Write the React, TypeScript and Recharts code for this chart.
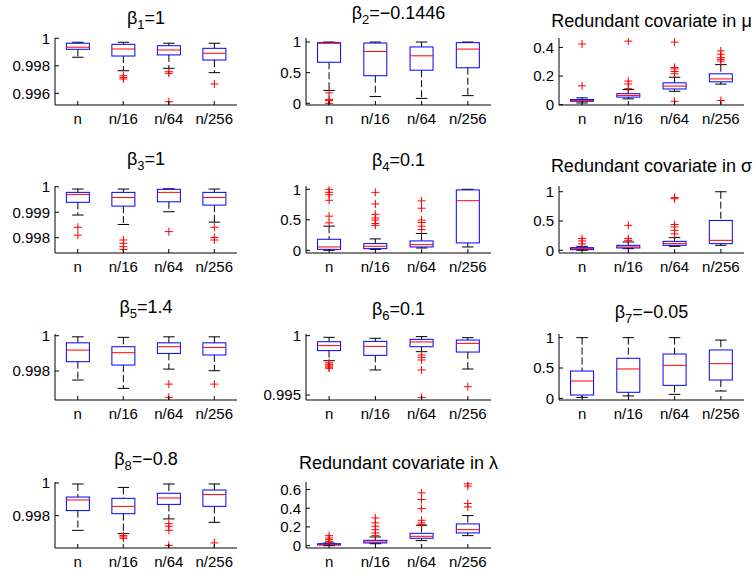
import React from "react";
import { Bar, ComposedChart, XAxis, YAxis } from "recharts";

const categories = ["n", "n/16", "n/64", "n/256"];

// each row: [lower whisker, q1, median, q3, upper whisker] for n, n/16, n/64, n/256
const beta1Stats = [
  [0.99862, 0.9992, 0.99935, 0.99964, 0.99971],
  [0.99764, 0.99871, 0.99922, 0.99956, 0.99971],
  [0.99782, 0.99879, 0.99915, 0.99946, 0.99964],
  [0.9975, 0.99842, 0.99891, 0.99927, 0.99964],
];
const beta1Outliers = [[], [0.99728, 0.99715, 0.99704], [0.99757, 0.99745, 0.99539], [0.99668]];

const beta2Stats = [
  [0.21, 0.67, 0.98, 0.99, 1.0],
  [0.11, 0.45, 0.846, 0.984, 1.0],
  [0.08, 0.54, 0.775, 0.92, 1.0],
  [0.125, 0.58, 0.885, 0.99, 1.0],
];
const beta2Outliers = [[0.17, 0.065, 0.045, 0.0], [], [], []];

const muStats = [
  [0.012, 0.024, 0.028, 0.036, 0.048],
  [0.041, 0.053, 0.065, 0.077, 0.106],
  [0.094, 0.11, 0.13, 0.153, 0.192],
  [0.144, 0.16, 0.18, 0.216, 0.28],
];
const muOutliers = [
  [0.424, 0.132],
  [0.444, 0.165, 0.145, 0.112],
  [0.437, 0.26, 0.25, 0.232, 0.216, 0.024],
  [0.376, 0.353, 0.329, 0.317, 0.305, 0.029],
];

const beta3Stats = [
  [0.99889, 0.99939, 0.9997, 0.99978, 0.99991],
  [0.99852, 0.99924, 0.99958, 0.99978, 0.99991],
  [0.99902, 0.99941, 0.99978, 0.9999, 0.99992],
  [0.99861, 0.99928, 0.99958, 0.99978, 0.99991],
];
const beta3Outliers = [[0.99841, 0.9981], [0.99791, 0.99778, 0.99765, 0.99754], [0.99824], [0.99841, 0.99801, 0.99791]];

const beta4Stats = [
  [0.0, 0.016, 0.055, 0.181, 0.396],
  [0.016, 0.027, 0.066, 0.11, 0.187],
  [0.038, 0.055, 0.093, 0.154, 0.275],
  [0.055, 0.121, 0.813, 0.99, 1.0],
];
const beta4Outliers = [
  [1.0, 0.95, 0.91, 0.82, 0.56, 0.45],
  [0.95, 0.76, 0.59, 0.53, 0.495, 0.44, 0.41],
  [0.81, 0.69, 0.495, 0.456, 0.396, 0.34],
  [],
];

const sigmaStats = [
  [0.0, 0.011, 0.028, 0.045, 0.068],
  [0.028, 0.04, 0.057, 0.085, 0.142],
  [0.068, 0.085, 0.114, 0.153, 0.216],
  [0.085, 0.114, 0.17, 0.51, 1.0],
];
const sigmaOutliers = [[0.2, 0.16, 0.11], [0.426, 0.2, 0.17], [0.9, 0.88, 0.44, 0.4, 0.34, 0.28], []];

const beta5Stats = [
  [0.99749, 0.99853, 0.99919, 0.9996, 0.99994],
  [0.99702, 0.99834, 0.99904, 0.99938, 0.99991],
  [0.99811, 0.999, 0.99938, 0.9996, 0.99994],
  [0.99802, 0.99891, 0.99934, 0.9996, 0.99994],
];
const beta5Outliers = [[], [], [0.99726, 0.99651], [0.99726]];

const beta6Stats = [
  [0.99789, 0.99874, 0.99916, 0.99949, 0.99986],
  [0.99711, 0.99834, 0.9991, 0.99952, 0.99978],
  [0.99865, 0.99907, 0.99947, 0.99969, 0.99992],
  [0.99719, 0.99862, 0.99935, 0.99963, 0.99983],
];
const beta6Outliers = [
  [0.99772, 0.99758, 0.99745, 0.99735, 0.99725],
  [],
  [0.99837, 0.99817, 0.99795, 0.99711, 0.9948],
  [0.9957],
];

const beta7Stats = [
  [0.016, 0.055, 0.286, 0.45, 1.0],
  [0.04, 0.1, 0.484, 0.66, 1.0],
  [0.066, 0.214, 0.544, 0.73, 1.0],
  [0.121, 0.302, 0.571, 0.797, 0.96],
];
const beta7Outliers = [[], [], [], []];

const beta8Stats = [
  [0.9971, 0.99831, 0.99896, 0.99914, 0.99994],
  [0.9969, 0.99812, 0.99857, 0.99906, 0.99973],
  [0.9978, 0.99869, 0.99908, 0.99937, 0.99994],
  [0.99759, 0.99857, 0.99929, 0.99957, 0.99994],
];
const beta8Outliers = [[], [0.99678, 0.9967, 0.99661], [0.99751, 0.99735, 0.9971, 0.99618], [0.99633]];

const lambdaStats = [
  [0.0, 0.007, 0.014, 0.021, 0.029],
  [0.021, 0.029, 0.039, 0.057, 0.093],
  [0.054, 0.079, 0.1, 0.132, 0.218],
  [0.107, 0.136, 0.171, 0.232, 0.321],
];
const lambdaOutliers = [
  [0.107, 0.082, 0.064, 0.046],
  [0.296, 0.243, 0.207, 0.171, 0.136, 0.107],
  [0.564, 0.493, 0.396, 0.271, 0.243, 0.225],
  [0.66, 0.636, 0.45, 0.414],
];

const FONT = '"Liberation Sans", Arial, Helvetica, sans-serif';

const colLeft = [55, 306, 559];
const colWidth = [182, 185, 185];
const rowTop = [38, 186, 334, 482];
const rowHeight = [67, 67, 66, 66];

const panels = [
  { sym: "β", sub: "1", rest: "=1", stats: beta1Stats, out: beta1Outliers, domain: [0.99515, 1.00002], ticks: [0.996, 0.998, 1], row: 0, col: 0, titleY: 24 },
  { sym: "β", sub: "2", rest: "=−0.1446", stats: beta2Stats, out: beta2Outliers, domain: [-0.028, 1.066], ticks: [0, 0.5, 1], row: 0, col: 1, titleY: 19 },
  { sym: "Redundant covariate in μ", sub: "", rest: "", stats: muStats, out: muOutliers, domain: [-0.002, 0.466], ticks: [0, 0.2, 0.4], row: 0, col: 2, titleY: 27 },
  { sym: "β", sub: "3", rest: "=1", stats: beta3Stats, out: beta3Outliers, domain: [0.9974, 1.00003], ticks: [0.998, 0.999, 1], row: 1, col: 0, titleY: 165 },
  { sym: "β", sub: "4", rest: "=0.1", stats: beta4Stats, out: beta4Outliers, domain: [-0.044, 1.054], ticks: [0, 0.5, 1], row: 1, col: 1, titleY: 166 },
  { sym: "Redundant covariate in σ", sub: "", rest: "", stats: sigmaStats, out: sigmaOutliers, domain: [-0.046, 1.098], ticks: [0, 0.5, 1], row: 1, col: 2, titleY: 172 },
  { sym: "β", sub: "5", rest: "=1.4", stats: beta5Stats, out: beta5Outliers, domain: [0.99636, 1.0001], ticks: [0.998, 1], row: 2, col: 0, titleY: 313 },
  { sym: "β", sub: "6", rest: "=0.1", stats: beta6Stats, out: beta6Outliers, domain: [0.99458, 1.00014], ticks: [0.995, 1], row: 2, col: 1, titleY: 315 },
  { sym: "β", sub: "7", rest: "=−0.05", stats: beta7Stats, out: beta7Outliers, domain: [-0.027, 1.06], ticks: [0, 0.5, 1], row: 2, col: 2, titleY: 318 },
  { sym: "β", sub: "8", rest: "=−0.8", stats: beta8Stats, out: beta8Outliers, domain: [0.99602, 1.00006], ticks: [0.998, 1], row: 3, col: 0, titleY: 465 },
  { sym: "Redundant covariate in λ", sub: "", rest: "", stats: lambdaStats, out: lambdaOutliers, domain: [-0.025, 0.68], ticks: [0, 0.2, 0.4, 0.6], row: 3, col: 1, titleY: 469 },
];

function buildRows(stats: number[][], outliers: number[][]) {
  return categories.map((cat, i) => {
    const [lo, q1, med, q3, hi] = stats[i];
    const out = outliers[i];
    const all = [lo, hi, ...out];
    return { cat, lo, q1, med, q3, hi, out, range: [Math.min(...all), Math.max(...all)] };
  });
}

// box + whiskers + outliers, placed by interpolating inside the bar's range on the y scale
function BoxShape(props: any) {
  const { x, y, width, height, payload } = props;
  if (!payload) return null;
  const top = Math.min(y, y + height);
  const bottom = Math.max(y, y + height);
  const [rLo, rHi] = payload.range;
  const py = (v: number) => bottom - ((v - rLo) / (rHi - rLo)) * (bottom - top);
  const cx = x + width / 2;
  const cap = width / 4;
  return (
    <g>
      <line x1={cx} x2={cx} y1={py(payload.hi)} y2={py(payload.q3)} stroke="#000" strokeDasharray="7 3" />
      <line x1={cx} x2={cx} y1={py(payload.q1)} y2={py(payload.lo)} stroke="#000" strokeDasharray="7 3" />
      <line x1={cx - cap} x2={cx + cap} y1={py(payload.hi)} y2={py(payload.hi)} stroke="#000" />
      <line x1={cx - cap} x2={cx + cap} y1={py(payload.lo)} y2={py(payload.lo)} stroke="#000" />
      <rect x={x} y={py(payload.q3)} width={width} height={py(payload.q1) - py(payload.q3)} fill="none" stroke="#0000ff" />
      <line x1={x} x2={x + width} y1={py(payload.med)} y2={py(payload.med)} stroke="#ff0000" />
      {payload.out.map((v: number, k: number) => (
        <g key={k}>
          <line x1={cx - 4} x2={cx + 4} y1={py(v)} y2={py(v)} stroke="#ff0000" />
          <line x1={cx} x2={cx} y1={py(v) - 4} y2={py(v) + 4} stroke="#ff0000" />
        </g>
      ))}
    </g>
  );
}

const noTick = () => <g />;

function Panel({ p }: { p: (typeof panels)[number] }) {
  const w = colWidth[p.col];
  const h = rowHeight[p.row];
  const data = buildRows(p.stats, p.out);
  return (
    <div style={{ position: "absolute", left: colLeft[p.col] - 60, top: rowTop[p.row] - 10 }}>
      <ComposedChart
        width={w + 65}
        height={h + 42}
        data={data}
        margin={{ top: 10, right: 5, bottom: 0, left: 0 }}
        barCategoryGap="25%"
      >
        <XAxis xAxisId="bottom" dataKey="cat" height={32} interval={0} tickSize={-4} tickMargin={12} stroke="#000" tick={{ fill: "#000", fontSize: 15 }} />
        <XAxis xAxisId="top" dataKey="cat" orientation="top" height={0} interval={0} tickSize={-4} stroke="#000" tick={noTick} />
        <YAxis yAxisId="left" type="number" domain={p.domain} ticks={p.ticks} allowDataOverflow interval={0} width={60} tickSize={-4} tickMargin={9} stroke="#000" tick={{ fill: "#000", fontSize: 15 }} />
        <YAxis yAxisId="right" type="number" orientation="right" domain={p.domain} ticks={p.ticks} allowDataOverflow interval={0} width={0} tickSize={-4} stroke="#000" tick={noTick} />
        <Bar xAxisId="bottom" yAxisId="left" dataKey="range" shape={BoxShape} isAnimationActive={false} />
      </ComposedChart>
    </div>
  );
}

export default function App() {
  return (
    <div style={{ position: "absolute", left: 0, top: 0, width: 756, height: 574, background: "#fff", overflow: "hidden", fontFamily: FONT }}>
      {panels.map((p, i) => (
        <Panel key={i} p={p} />
      ))}
      <svg width={756} height={574} style={{ position: "absolute", left: 0, top: 0, pointerEvents: "none" }}>
        {panels.map((p, i) => (
          <text key={i} x={colLeft[p.col] + colWidth[p.col] / 2} y={p.titleY} textAnchor="middle" fontSize={18} fill="#000" fontFamily={FONT}>
            {p.sym}
            {p.sub && (
              <tspan fontSize={13} dy={5}>
                {p.sub}
              </tspan>
            )}
            {p.rest && <tspan dy={-5}>{p.rest}</tspan>}
          </text>
        ))}
      </svg>
    </div>
  );
}
